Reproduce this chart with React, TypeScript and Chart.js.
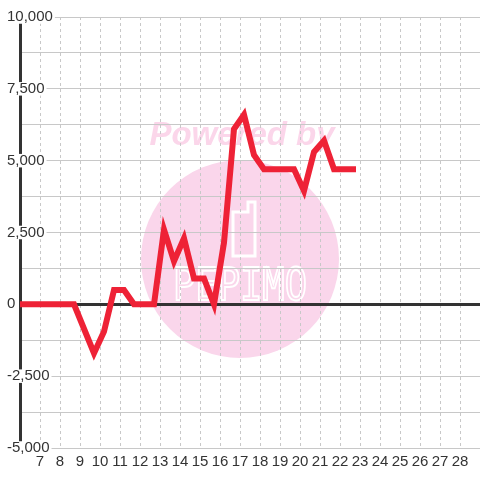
import React, { useEffect, useRef } from 'react';
import { Chart, registerables } from 'chart.js';

Chart.register(...registerables);

// Data (x = day position, y = value)
const xValues = [5.7, 6.2, 6.7, 7.2, 7.7, 8.2, 8.7, 9.7, 10.2, 10.7, 11.2, 11.7, 12.2, 12.7, 13.2, 13.7, 14.2, 14.7, 15.2, 15.7, 16.2, 16.7, 17.2, 17.7, 18.2, 18.7, 19.2, 19.7, 20.2, 20.7, 21.2, 21.7, 22.2, 22.8];
const yValues = [0, 0, 0, 0, 0, 0, 0, -1700, -950, 500, 500, 0, 0, 0, 2600, 1500, 2300, 900, 900, 0, 2150, 6100, 6600, 5200, 4700, 4700, 4700, 4700, 3950, 5300, 5700, 4700, 4700, 4700];

const xMin = 6;
const xMax = 29;
const xFirstLabel = 7;
const xLastLabel = 28;
const yMin = -5000;
const yMax = 10000;
const yGridStep = 1250;
const yLabelStep = 2500;

const watermarkTop = 'Powered by';
const watermarkBrand = 'PEPIMO';

const watermarkPlugin = {
  id: 'watermark',
  beforeDraw(chart: any) {
    const ctx = chart.ctx as CanvasRenderingContext2D;
    ctx.save();
    ctx.fillStyle = '#ffffff';
    ctx.fillRect(0, 0, chart.width, chart.height);
    // pink disc
    ctx.fillStyle = 'rgb(250,214,235)';
    ctx.beginPath();
    ctx.arc(240, 259, 99, 0, Math.PI * 2);
    ctx.fill();
    // "Powered by"
    ctx.fillStyle = 'rgb(251,214,234)';
    ctx.font = 'italic bold 33px "Liberation Sans"';
    ctx.textAlign = 'center';
    ctx.textBaseline = 'alphabetic';
    ctx.fillText(watermarkTop, 242, 145);
    // icon
    ctx.strokeStyle = '#ffffff';
    ctx.lineWidth = 3;
    ctx.beginPath();
    ctx.moveTo(233, 212);
    ctx.lineTo(233, 256);
    ctx.lineTo(255, 256);
    ctx.lineTo(255, 202);
    ctx.lineTo(248, 202);
    ctx.lineTo(248, 212);
    ctx.closePath();
    ctx.stroke();
    // brand
    ctx.font = '40px "DejaVu Sans Mono"';
    const w = ctx.measureText(watermarkBrand).width;
    ctx.translate(240, 289);
    ctx.scale(134 / w, 32 / 29);
    ctx.textBaseline = 'middle';
    ctx.lineWidth = 1.8;
    ctx.strokeText(watermarkBrand, 0, 0);
    ctx.restore();
  },
};

export default function App() {
  const canvasRef = useRef<HTMLCanvasElement | null>(null);

  useEffect(() => {
    const canvas = canvasRef.current;
    if (!canvas) return;
    const points = xValues.map((x, i) => ({ x, y: yValues[i] }));
    const chart = new Chart(canvas, {
      type: 'line',
      data: {
        datasets: [
          {
            data: points,
            borderColor: '#ee2236',
            borderWidth: 6,
            pointRadius: 0,
            pointHoverRadius: 0,
            fill: false,
            tension: 0,
            borderJoinStyle: 'miter',
          },
        ],
      },
      options: {
        animation: false,
        responsive: false,
        maintainAspectRatio: false,
        events: [],
        layout: { padding: { left: 7, top: 17, right: 0, bottom: 0 } },
        plugins: {
          legend: { display: false },
          tooltip: { enabled: false },
          title: { display: false },
        },
        scales: {
          x: {
            type: 'linear',
            min: xMin,
            max: xMax,
            afterFit: (scale: any) => {
              scale.height = 32;
            },
            border: { display: false, dash: [3, 3] },
            grid: { color: '#c8c8c8', lineWidth: 1, drawTicks: false },
            ticks: {
              stepSize: 1,
              autoSkip: false,
              maxRotation: 0,
              minRotation: 0,
              padding: 0,
              color: '#333333',
              font: { family: '"Liberation Sans"', size: 15, lineHeight: 1.8 },
              callback: (v: any) => (v >= xFirstLabel && v <= xLastLabel ? String(v) : ''),
            },
          },
          y: {
            type: 'linear',
            min: yMin,
            max: yMax,
            afterFit: (scale: any) => {
              scale.width = 13;
            },
            border: { display: true, color: '#333333', width: 3 },
            grid: {
              drawTicks: false,
              color: (c: any) => (c.tick && c.tick.value === 0 ? '#333333' : '#c8c8c8'),
              lineWidth: (c: any) => (c.tick && c.tick.value === 0 ? 3 : 1),
            },
            ticks: {
              stepSize: yGridStep,
              autoSkip: false,
              mirror: true,
              crossAlign: 'near',
              padding: -13,
              color: '#333333',
              font: { family: '"Liberation Sans"', size: 15, lineHeight: 0.9 },
              showLabelBackdrop: (c: any) => c.tick && c.tick.value % yLabelStep === 0,
              backdropColor: '#ffffff',
              backdropPadding: { left: 2, right: 2, top: 0, bottom: 0 },
              callback: (v: any) => (v % yLabelStep === 0 ? Number(v).toLocaleString('en-US') : ''),
            },
          },
        },
      },
      plugins: [watermarkPlugin],
    });
    return () => chart.destroy();
  }, []);

  return (
    <div style={{ position: 'fixed', left: 0, top: 0, width: 480, height: 480, background: '#fff' }}>
      <canvas ref={canvasRef} width={480} height={480} style={{ width: 480, height: 480, display: 'block' }} />
    </div>
  );
}
